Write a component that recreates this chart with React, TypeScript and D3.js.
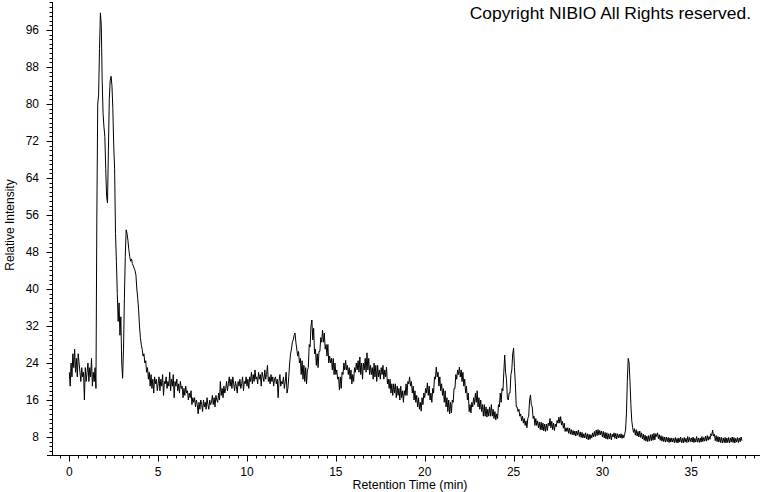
import React from 'react';
import * as d3 from 'd3';

// Chromatogram sampled every 0.05 min starting at 0 min (one row = 1 minute)
const TIME_START = 0;
const TIME_STEP = 0.05;
const intensity: number[] = [
  // 0
  22, 19, 24, 21, 26, 23, 27, 22, 25, 21, 26, 24, 22, 20, 23, 21, 22, 16, 23, 20,
  // 1
  22, 24, 20, 23, 21, 25, 19, 22, 20, 23, 18.5, 56, 80, 82, 92, 99.7, 97, 85, 78, 75,
  // 2
  73, 66, 60, 58.6, 70, 81, 85, 86, 84, 79, 71, 66, 52, 46, 39, 33, 37, 30, 34, 24,
  // 3
  20.7, 27, 38, 47, 52.8, 52, 50.5, 48.5, 47, 46, 46.5, 45.5, 45, 44.5, 44, 43, 40, 38, 35.5, 32,
  // 4
  29.5, 28, 27, 25.5, 26, 24, 24.5, 22, 23, 20.5, 22, 19, 21.5, 18.5, 20.5, 17.5, 21, 19.5, 20.5, 18,
  // 5
  19.5, 21, 18, 20.5, 19, 21.5, 17, 20, 19.5, 21, 18.5, 20, 19, 22, 18, 20.5, 19, 21.5, 16.5, 20,
  // 6
  19, 20.5, 18, 19.5, 17.5, 20, 18.5, 19, 16.5, 18.5, 17, 19, 17.5, 18, 16, 17.5, 16.5, 18, 15, 16.5,
  // 7
  15.5, 16.5, 14.5, 16, 15, 13, 15.5, 14, 16, 15, 13.5, 16, 14.5, 15.5, 14, 16.5, 15, 14, 16, 15,
  // 8
  15.5, 17, 15, 16.5, 14.5, 17, 16, 15.5, 17.5, 16, 20, 17, 18.5, 16.5, 19, 17.5, 18.5, 20, 18, 19.5,
  // 9
  21, 19, 20.5, 18.5, 21, 19.5, 18, 20, 19, 17.5, 20, 19, 20.5, 18.5, 19.5, 21, 18, 20, 19.5, 21,
  // 10
  19, 20.5, 18.5, 21, 20, 22, 19.5, 21.5, 20, 22.5, 20.5, 21, 19.5, 22, 20.5, 21.5, 19, 22, 21, 20,
  // 11
  22.5, 20.5, 21.5, 23.5, 20, 21, 19.5, 21.5, 20, 21, 19, 20.5, 21, 19.5, 20.5, 16.5, 20, 21.5, 19, 20,
  // 12
  19.5, 21, 18.5, 20, 22, 17.5, 18.5, 21, 24, 26, 27, 28.5, 29, 30, 30.5, 28.5, 27, 25.5, 26.5, 24,
  // 13
  25, 21.5, 24.5, 20.5, 23.5, 20, 23, 19.5, 22.5, 23, 28, 27.5, 32, 33.3, 29, 31.5, 26, 27, 23.5, 26,
  // 14
  23, 26.5, 26.5, 29.5, 28.5, 31.1, 28.5, 30.5, 27, 28, 25.5, 28, 24, 25.5, 24, 25, 22.5, 25, 21.5, 24,
  // 15
  21.5, 22.5, 20.5, 21, 18.2, 21, 18.5, 22, 21.5, 24, 22.5, 24.6, 22.5, 23.5, 21.5, 23, 20.5, 22.5, 19.5, 21.5,
  // 16
  20, 23, 22, 24, 22.5, 24.5, 22, 25.3, 21.5, 24, 20.5, 24, 22.5, 25, 22, 26.2, 22.5, 25, 21.5, 23.5,
  // 17
  21.5, 23, 20.5, 24, 21, 23.5, 20, 23.5, 21, 22.5, 20.5, 23, 21.5, 23.5, 20.5, 22.5, 21, 23.1, 19.5, 20.5,
  // 18
  18.5, 20.5, 17.5, 19.5, 17, 19.5, 17.5, 19.5, 16.5, 19, 17, 18.5, 16, 19, 16.5, 18, 15.5, 18, 17, 19.5,
  // 19
  17, 20, 19.5, 21, 19, 20, 17.5, 19, 16, 18, 15.5, 17, 14.5, 16.5, 14, 15.5, 13.6, 16.5, 15, 17.5,
  // 20
  16.5, 18.5, 17.5, 19.7, 17, 19, 16, 17.5, 15.5, 18.5, 17.5, 21, 20.5, 23.1, 21, 22, 19, 21, 18, 19.5,
  // 21
  17, 18.5, 15.5, 18, 14.5, 16.5, 13.5, 16, 13, 15.5, 13.2, 16, 15.5, 18.5, 18.5, 21.5, 20.5, 22.5, 21.5, 23.1,
  // 22
  21, 22.5, 20, 22, 19, 20.5, 17.5, 19, 16, 17.5, 13.5, 15, 13.2, 15.5, 14.5, 16.5, 15, 17.5, 15.5, 18,
  // 23
  14.5, 16.5, 14, 16, 13.5, 15, 12.5, 15, 12.5, 14.5, 12.3, 14, 12.5, 14.5, 12.5, 15, 12.5, 14, 12, 13.5,
  // 24
  11.7, 13, 12, 15, 14.5, 17.5, 15.5, 18.5, 18, 22, 25.7, 22, 20.5, 16.5, 16, 17.5, 17.5, 21.5, 22.5, 26,
  // 25
  27.2, 23, 19.5, 14.5, 14.5, 13.5, 14, 12.5, 13, 11.5, 12.5, 11, 12, 10.5, 11.5, 10, 12, 12.5, 16, 17.1,
  // 26
  15, 14.5, 12, 12.5, 10.5, 12, 10.5, 11.5, 10, 11.2, 9.6, 11.2, 9.5, 11, 9.3, 10.8, 9.2, 10.8, 9.4, 11,
  // 27
  10.4, 12, 10, 11.4, 9.6, 11, 9.4, 10.8, 10.2, 11.6, 11, 12.3, 11, 12.4, 10.6, 11.4, 9.9, 11, 9.2, 10,
  // 28
  9.2, 10, 8.8, 9.9, 8.6, 9.6, 8.5, 9.4, 8.4, 9.3, 8.2, 9.3, 8.4, 9.5, 8.1, 9.1, 7.9, 9, 7.8, 8.7,
  // 29
  7.8, 8.9, 7.6, 8.7, 7.4, 8.6, 7.5, 8.5, 7.8, 8.9, 8, 9.2, 8.1, 9.5, 8.3, 9.6, 8.4, 9.4, 8.5, 9.3,
  // 30
  8, 9.2, 7.8, 9, 7.6, 8.9, 7.5, 8.7, 7.6, 8.8, 7.4, 8.6, 8, 8.9, 7.7, 8.8, 7.6, 8.7, 7.8, 8.6,
  // 31
  7.8, 8.7, 7.7, 8.5, 7.8, 8.6, 9.5, 13, 20, 25, 24, 20, 15, 11.5, 10, 9, 9.8, 8.4, 9.6, 8.2,
  // 32
  9.2, 8, 9.3, 7.9, 8.9, 7.6, 8.6, 7.3, 8.4, 7.1, 8.2, 7, 8.3, 7.1, 8.5, 7.2, 8.6, 7.3, 8.8, 7.4,
  // 33
  8.7, 8.1, 8.9, 7.6, 8.5, 7.3, 8.3, 7.1, 8.1, 7, 8, 6.9, 8, 7, 7.9, 6.8, 7.8, 6.9, 7.8, 6.9,
  // 34
  7.7, 6.8, 7.9, 6.8, 7.7, 6.7, 7.8, 6.9, 8, 6.8, 7.7, 6.7, 7.9, 6.9, 7.7, 6.8, 8.1, 6.9, 7.9, 7,
  // 35
  7.8, 6.9, 8, 6.8, 7.7, 6.9, 8.1, 6.9, 7.8, 6.8, 7.8, 6.9, 8.1, 7, 7.9, 7.1, 8.2, 7.1, 8.3, 7.3,
  // 36
  8.1, 7.5, 8.7, 8.3, 9.5, 8.2, 8.6, 7.2, 8.3, 7, 8.1, 6.9, 8, 6.8, 7.9, 6.7, 7.8, 6.8, 7.9, 6.7,
  // 37
  7.8, 6.8, 7.9, 6.7, 7.8, 6.9, 8, 6.8, 7.9, 6.7, 7.7, 6.9, 7.9, 6.8, 7.8, 7, 8, 7.2,
];

const yMajorTicks = [8, 16, 24, 32, 40, 48, 56, 64, 72, 80, 88, 96];
const yTickLabels = ['8', '16', '24', '32', '40', '48', '56', '64', '72', '80', '88', '96'];
const xMajorTicks = [0, 5, 10, 15, 20, 25, 30, 35];
const xTickLabels = ['0', '5', '10', '15', '20', '25', '30', '35'];
const yMinorTicks = d3.range(5, 103, 1);
const xMinorTicks = d3.range(-0.5, 38.6, 0.5);

const xTitle = 'Retention Time (min)';
const yTitle = 'Relative Intensity';
const copyright = 'Copyright NIBIO All Rights reserved.';

export default function App() {
  const W = 760;
  const H = 492;
  const x = d3.scaleLinear().domain([0, 35]).range([69.3, 691.3]);
  const y = d3.scaleLinear().domain([8, 96]).range([437, 30]);

  const pts: [number, number][] = intensity.map((v, i) => [TIME_START + i * TIME_STEP, v]);
  const line = d3
    .line<[number, number]>()
    .x((d) => x(d[0]))
    .y((d) => y(d[1]));

  const axisXPos = 52.5; // y axis vertical line
  const axisYPos = 455.5; // x axis horizontal line
  const font = 'Arial, "Liberation Sans", Helvetica, sans-serif';
  const crisp = (v: number) => Math.round(v) + 0.5;

  return (
    <svg
      width={W}
      height={H}
      viewBox={`0 0 ${W} ${H}`}
      style={{ position: 'absolute', left: 0, top: 0, background: '#fff' }}
    >
      <rect x={0} y={0} width={W} height={H} fill="#fff" />
      {/* Y axis */}
      <line x1={axisXPos} x2={axisXPos} y1={2} y2={axisYPos} stroke="#000" strokeWidth={1} />
      {yMinorTicks.map((t) => (
        <line key={'ym' + t} x1={axisXPos - 3} x2={axisXPos} y1={crisp(y(t))} y2={crisp(y(t))} stroke="#000" strokeWidth={1} />
      ))}
      {yMajorTicks.map((t, i) => (
        <g key={'yM' + t}>
          <line x1={axisXPos - 6} x2={axisXPos} y1={crisp(y(t))} y2={crisp(y(t))} stroke="#000" strokeWidth={1} />
          <text x={39} y={y(t) + 4.3} textAnchor="end" fontFamily={font} fontSize={12} fill="#000">
            {yTickLabels[i]}
          </text>
        </g>
      ))}
      {/* X axis */}
      <line x1={47} x2={W} y1={axisYPos} y2={axisYPos} stroke="#000" strokeWidth={1} />
      {xMinorTicks.map((t) => (
        <line key={'xm' + t} x1={crisp(x(t))} x2={crisp(x(t))} y1={axisYPos} y2={axisYPos + 3} stroke="#000" strokeWidth={1} />
      ))}
      {xMajorTicks.map((t, i) => (
        <g key={'xM' + t}>
          <line x1={crisp(x(t))} x2={crisp(x(t))} y1={axisYPos} y2={axisYPos + 6} stroke="#000" strokeWidth={1} />
          <text x={x(t)} y={475.5} textAnchor="middle" fontFamily={font} fontSize={12} fill="#000">
            {xTickLabels[i]}
          </text>
        </g>
      ))}
      {/* Titles */}
      <text x={410} y={488.5} textAnchor="middle" fontFamily={font} fontSize={12.4} fill="#000">
        {xTitle}
      </text>
      <text
        transform={`translate(13.5,225) rotate(-90)`}
        textAnchor="middle"
        fontFamily={font}
        fontSize={12}
        fill="#000"
      >
        {yTitle}
      </text>
      <text x={751} y={18.5} textAnchor="end" fontFamily={font} fontSize={17.4} fill="#000">
        {copyright}
      </text>
      {/* Trace */}
      <path d={line(pts) || ''} fill="none" stroke="#000" strokeWidth={1} strokeLinejoin="miter" />
    </svg>
  );
}
